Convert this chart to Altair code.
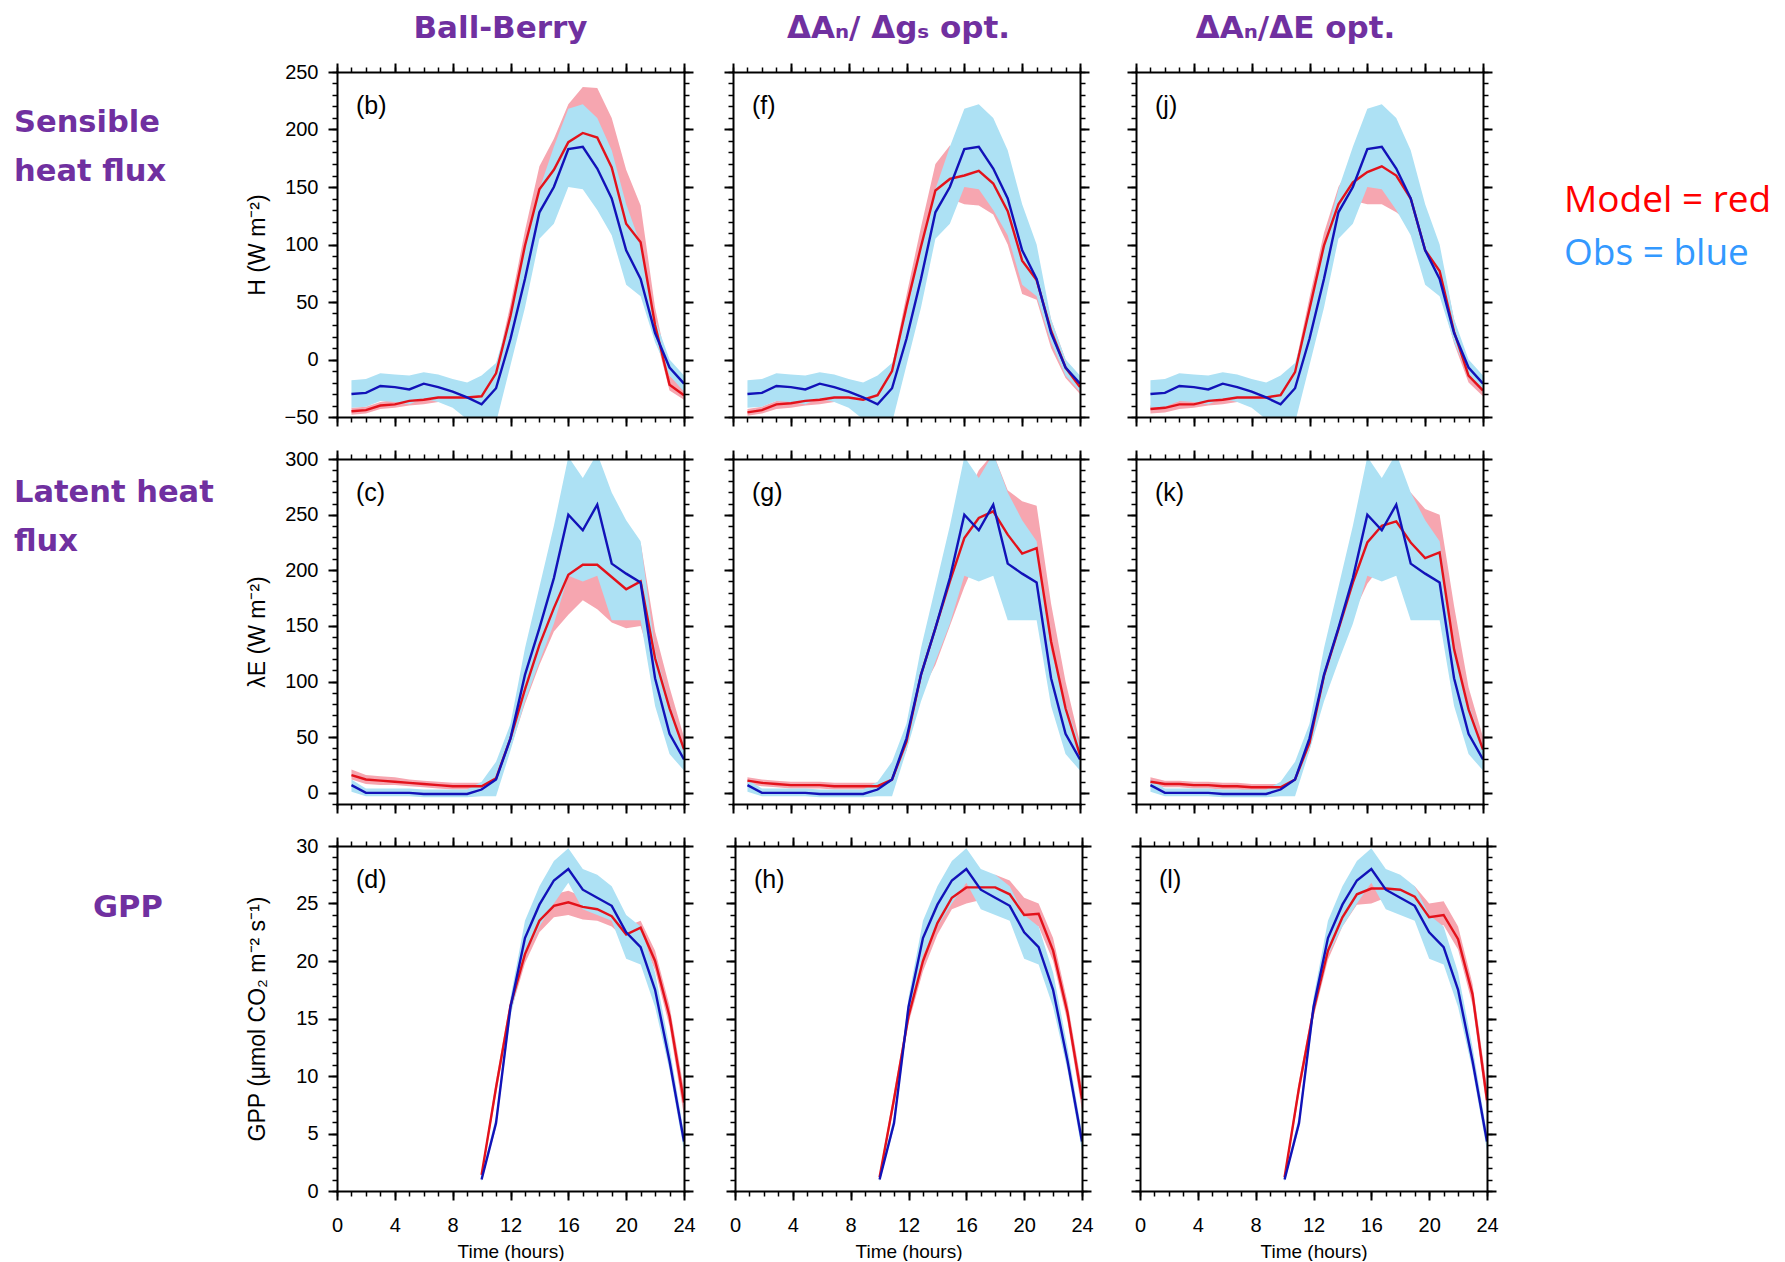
import altair as alt
import pandas as pd

# ---------------- data ----------------
HOURS = list(range(1, 25))
GPP_HOURS = list(range(10, 25))

X_MAJOR = [0, 4, 8, 12, 16, 20, 24]
X_MINOR = list(range(0, 25))
Y_DOMAINS = [[-50, 250], [-10, 300], [0, 30]]
Y_MAJOR = [[-50, 0, 50, 100, 150, 200, 250],
           [0, 50, 100, 150, 200, 250, 300],
           [0, 5, 10, 15, 20, 25, 30]]
Y_MINOR = [list(range(-50, 251, 10)), list(range(-10, 301, 10)), list(range(0, 31))]

COL_TITLES = ["Ball-Berry", "\u0394A\u2099/ \u0394g\u209b opt.", "\u0394A\u2099/\u0394E opt."]
ROW_LABELS = [["Sensible", "heat flux"], ["Latent heat", "flux"], ["GPP"]]
Y_TITLES = ["H (W m\u207b\u00b2)", "\u03bbE (W m\u207b\u00b2)", "GPP (\u03bcmol CO\u2082 m\u207b\u00b2 s\u207b\u00b9)"]
X_TITLE = "Time (hours)"
LETTERS = [["(b)", "(f)", "(j)"], ["(c)", "(g)", "(k)"], ["(d)", "(h)", "(l)"]]
LEGEND = ["Model = red", "Obs = blue"]

# Observations (same in every column of a row)
OBS_H = [-30, -29, -23, -24, -26, -21, -24, -28, -33, -39, -25, 18, 70, 128, 150, 183, 185, 166, 140, 95, 70, 23, -7, -21]
OBS_H_LO = [-42, -41, -36, -37, -39, -34, -37, -42, -52, -55, -55, -5, 45, 105, 118, 150, 148, 130, 108, 65, 55, 15, -14, -28]
OBS_H_HI = [-18, -17, -12, -13, -14, -11, -13, -17, -20, -14, -3, 40, 100, 148, 185, 218, 222, 210, 182, 135, 100, 35, 0, -14]

OBS_LE = [7, 0, 0, 0, 0, -1, -1, -1, -1, 3, 12, 49, 106, 148, 193, 250, 236, 259, 206, 197, 189, 103, 53, 30]
OBS_LE_LO = [1, -3, -3, -3, -3, -4, -4, -4, -4, -3, -3, 38, 82, 118, 152, 195, 190, 195, 155, 155, 155, 78, 35, 20]
OBS_LE_HI = [12, 4, 4, 4, 4, 3, 3, 3, 3, 10, 28, 62, 130, 185, 240, 302, 283, 305, 270, 245, 226, 128, 80, 42]

OBS_GPP = [1.0, 5.9, 16.0, 22.0, 24.9, 27.0, 28.0, 26.2, 25.5, 24.8, 22.5, 21.2, 17.5, 11.3, 4.3]
OBS_GPP_LO = [0.8, 5.5, 15.2, 20.5, 23.0, 25.0, 26.8, 24.5, 24.0, 23.5, 20.2, 19.7, 16.0, 10.5, 3.5]
OBS_GPP_HI = [1.3, 6.5, 16.8, 23.5, 26.5, 28.7, 29.8, 28.0, 27.5, 26.5, 24.0, 23.0, 19.0, 12.5, 5.0]

# Model runs: Ball-Berry, dAn/dgs opt., dAn/dE opt.
MOD_H_BB = [-45, -44, -40, -39, -36, -35, -33, -33, -33, -32, -12, 38, 99, 148, 165, 189, 197, 193, 167, 118, 102, 30, -22, -31]
MOD_H_BB_LO = [-48, -47, -43, -42, -40, -39, -37, -37, -37, -36, -16, 30, 88, 135, 152, 172, 180, 176, 150, 100, 85, 22, -27, -35]
MOD_H_BB_HI = [-42, -41, -37, -35, -32, -31, -29, -29, -30, -29, -8, 48, 112, 168, 192, 222, 237, 236, 210, 165, 134, 45, -14, -25]

MOD_H_GS = [-46, -44, -39, -38, -36, -35, -33, -33, -35, -31, -10, 46, 98, 147, 157, 160, 164, 153, 129, 86, 69, 25, -7, -24]
MOD_H_GS_LO = [-49, -47, -43, -42, -40, -39, -37, -37, -39, -35, -15, 36, 85, 128, 140, 135, 134, 126, 100, 57, 52, 10, -16, -30]
MOD_H_GS_HI = [-43, -41, -36, -35, -33, -32, -30, -30, -32, -28, -6, 56, 115, 170, 186, 180, 180, 172, 152, 108, 86, 35, 0, -20]

MOD_H_E = [-43, -42, -39, -39, -36, -35, -33, -33, -33, -31, -11, 44, 99, 135, 154, 163, 168, 160, 140, 95, 77, 24, -14, -27]
MOD_H_E_LO = [-47, -46, -43, -42, -40, -39, -37, -37, -37, -35, -16, 34, 88, 122, 138, 135, 135, 128, 118, 72, 60, 14, -20, -32]
MOD_H_E_HI = [-40, -39, -36, -35, -32, -31, -29, -29, -30, -28, -6, 54, 110, 150, 172, 180, 184, 178, 160, 112, 95, 35, -6, -22]

MOD_LE_BB = [16, 12, 11, 10, 9, 8, 7, 6, 6, 6, 13, 49, 93, 133, 166, 196, 205, 205, 194, 183, 190, 121, 76, 39]
MOD_LE_BB_LO = [12, 8, 7, 7, 6, 5, 4, 3, 3, 3, 9, 40, 80, 115, 145, 160, 173, 165, 153, 148, 150, 105, 60, 30]
MOD_LE_BB_HI = [21, 16, 15, 14, 12, 11, 10, 9, 9, 9, 18, 58, 105, 148, 185, 225, 232, 232, 225, 215, 225, 145, 95, 50]

MOD_LE_GS = [11, 9, 8, 7, 7, 7, 6, 6, 6, 6, 12, 46, 106, 148, 190, 229, 247, 253, 232, 215, 220, 136, 76, 34]
MOD_LE_GS_LO = [8, 6, 5, 4, 4, 4, 3, 3, 3, 3, 8, 38, 90, 115, 150, 185, 215, 220, 200, 185, 185, 115, 60, 25]
MOD_LE_GS_HI = [14, 12, 11, 10, 10, 10, 9, 9, 9, 9, 16, 54, 118, 162, 205, 262, 290, 305, 272, 262, 258, 170, 100, 45]

MOD_LE_E = [10, 8, 8, 7, 7, 6, 6, 5, 5, 5, 12, 45, 105, 147, 189, 225, 240, 244, 225, 211, 216, 129, 75, 39]
MOD_LE_E_LO = [7, 5, 5, 4, 4, 3, 3, 2, 2, 2, 8, 38, 95, 128, 160, 188, 205, 210, 195, 180, 180, 110, 60, 28]
MOD_LE_E_HI = [14, 11, 11, 10, 10, 9, 9, 8, 8, 8, 16, 54, 115, 162, 205, 255, 275, 280, 270, 255, 250, 168, 95, 50]

MOD_GPP_BB = [1.4, 9.0, 16.1, 20.6, 23.5, 24.8, 25.1, 24.7, 24.5, 23.9, 22.3, 22.9, 20.0, 15.2, 7.7]
MOD_GPP_BB_LO = [1.1, 8.4, 15.5, 19.8, 22.5, 23.8, 24.0, 23.6, 23.5, 23.0, 21.8, 22.2, 19.2, 14.3, 6.5]
MOD_GPP_BB_HI = [1.7, 9.6, 16.7, 21.4, 24.6, 25.8, 26.1, 25.6, 25.3, 24.7, 23.0, 23.5, 20.9, 16.1, 8.8]

MOD_GPP_GS = [1.2, 8.0, 15.2, 20.0, 23.3, 25.5, 26.4, 26.4, 26.4, 25.8, 24.0, 24.1, 20.9, 15.5, 8.0]
MOD_GPP_GS_LO = [0.9, 7.4, 14.6, 19.1, 22.3, 24.5, 25.0, 25.3, 25.5, 25.0, 23.1, 23.0, 20.0, 14.7, 7.0]
MOD_GPP_GS_HI = [1.5, 8.6, 15.8, 21.0, 24.3, 26.3, 27.2, 27.3, 27.5, 27.0, 25.5, 25.0, 22.0, 16.4, 9.0]

MOD_GPP_E = [1.2, 9.0, 15.7, 20.9, 23.8, 25.8, 26.3, 26.3, 26.2, 25.6, 23.8, 24.0, 21.9, 17.1, 7.9]
MOD_GPP_E_LO = [0.9, 8.4, 15.1, 20.1, 23.0, 24.9, 25.0, 25.5, 25.5, 25.0, 23.0, 23.1, 21.0, 16.2, 7.0]
MOD_GPP_E_HI = [1.5, 9.6, 16.3, 21.7, 24.6, 26.4, 26.9, 27.0, 27.0, 26.5, 25.0, 25.2, 23.0, 18.0, 9.0]

OBS = [(OBS_H, OBS_H_LO, OBS_H_HI), (OBS_LE, OBS_LE_LO, OBS_LE_HI), (OBS_GPP, OBS_GPP_LO, OBS_GPP_HI)]
MOD = [
    [(MOD_H_BB, MOD_H_BB_LO, MOD_H_BB_HI), (MOD_H_GS, MOD_H_GS_LO, MOD_H_GS_HI), (MOD_H_E, MOD_H_E_LO, MOD_H_E_HI)],
    [(MOD_LE_BB, MOD_LE_BB_LO, MOD_LE_BB_HI), (MOD_LE_GS, MOD_LE_GS_LO, MOD_LE_GS_HI), (MOD_LE_E, MOD_LE_E_LO, MOD_LE_E_HI)],
    [(MOD_GPP_BB, MOD_GPP_BB_LO, MOD_GPP_BB_HI), (MOD_GPP_GS, MOD_GPP_GS_LO, MOD_GPP_GS_HI), (MOD_GPP_E, MOD_GPP_E_LO, MOD_GPP_E_HI)],
]

# ---------------- style ----------------
RED = "#E3121B"
BLUE = "#1212B8"
PINK = "#F6A6B0"
SKY = "#ADE1F4"
PURPLE = "#7030A0"
AXFONT = "Liberation Sans"
PW, PH = 347, 345


def major_axis(orient, values, labels=False, kind="x"):
    kw = dict(orient=orient, values=values, tickSize=9, tickWidth=2, tickColor="black",
              domain=True, domainColor="black", domainWidth=2, domainCap="square",
              grid=False, zindex=1, labels=labels)
    if labels:
        kw.update(labelFont=AXFONT, labelFontSize=20, labelColor="black",
                  labelFlush=False, labelOverlap=False,
                  titleFont=AXFONT, titleFontWeight="normal", titleColor="black")
        if kind == "x":
            kw.update(labelPadding=15, titlePadding=7, titleFontSize=19)
        else:
            kw.update(labelPadding=10, titlePadding=16, titleFontSize=23,
                      minExtent=52, maxExtent=52)
    else:
        kw.update(minExtent=0)
    return alt.Axis(**kw)


def minor_axis(orient, values):
    return alt.Axis(orient=orient, values=values, tickSize=5, tickWidth=1.5, tickColor="black",
                    domain=False, grid=False, labels=False, zindex=1, minExtent=0)


def make_panel(r, c):
    hours = GPP_HOURS if r == 2 else HOURS
    obs, obs_lo, obs_hi = OBS[r]
    mod, mod_lo, mod_hi = MOD[r][c]
    df = pd.DataFrame({"hour": hours, "obs": obs, "obs_lo": obs_lo, "obs_hi": obs_hi,
                       "mod": mod, "mod_lo": mod_lo, "mod_hi": mod_hi})
    xs = alt.Scale(domain=[0, 24], nice=False, zero=False)
    ys = alt.Scale(domain=Y_DOMAINS[r], nice=False, zero=False)
    base = alt.Chart(df)
    lab_x = r == 2
    lab_y = c == 0

    band_mod = base.mark_area(color=PINK, opacity=1, clip=True).encode(
        x=alt.X("hour:Q", scale=xs, axis=major_axis("bottom", X_MAJOR, lab_x, "x"),
                title=X_TITLE if lab_x else None),
        y=alt.Y("mod_lo:Q", scale=ys, axis=major_axis("left", Y_MAJOR[r], lab_y, "y"),
                title=Y_TITLES[r] if lab_y else None),
        y2="mod_hi:Q",
    )
    band_obs = base.mark_area(color=SKY, opacity=1, clip=True).encode(
        x=alt.X("hour:Q", scale=xs, axis=minor_axis("bottom", X_MINOR), title=None),
        y=alt.Y("obs_lo:Q", scale=ys, axis=minor_axis("left", Y_MINOR[r]), title=None),
        y2="obs_hi:Q",
    )
    line_mod = base.mark_line(color=RED, strokeWidth=2.4, clip=True).encode(
        x=alt.X("hour:Q", scale=xs, axis=major_axis("top", X_MAJOR), title=None),
        y=alt.Y("mod:Q", scale=ys, axis=major_axis("right", Y_MAJOR[r]), title=None),
    )
    line_obs = base.mark_line(color=BLUE, strokeWidth=2.4, clip=True).encode(
        x=alt.X("hour:Q", scale=xs, axis=minor_axis("top", X_MINOR), title=None),
        y=alt.Y("obs:Q", scale=ys, axis=minor_axis("right", Y_MINOR[r]), title=None),
    )
    one = pd.DataFrame({"k": [0]})
    letter = alt.Chart(one).mark_text(font=AXFONT, fontSize=25, color="black",
                                      align="left", baseline="alphabetic").encode(
        x=alt.value(19), y=alt.value(42), text=alt.value(LETTERS[r][c]))
    layers = [band_mod, band_obs, line_mod, line_obs, letter]
    if r == 0 and c == 2:
        for i, col in enumerate(["#FF0000", "#3399FF"]):
            layers.append(alt.Chart(one).mark_text(font="Open Sans", fontSize=37, color=col,
                                                   align="left", baseline="alphabetic").encode(
                x=alt.value(428), y=alt.value(140 + 53 * i), text=alt.value(LEGEND[i])))
    ch = alt.layer(*layers).resolve_axis(x="independent", y="independent").properties(width=PW, height=PH)
    if r == 0:
        ch = ch.properties(title=alt.TitleParams(
            text=COL_TITLES[c], font="DejaVu Sans", fontSize=31, fontWeight="bold", color=PURPLE,
            anchor="middle", baseline="alphabetic", offset=-7, dx=[-10, -8, -14][c]))
    return ch


ROW_LABEL_X = [6, 6, 85]
ROW_LABEL_Y = [60, 43, 71]


def label_col(r):
    one = pd.DataFrame({"k": [0]})
    return alt.Chart(one).mark_text(font="DejaVu Sans", fontWeight="bold", fontSize=30.5, color=PURPLE,
                                    align="left", baseline="alphabetic", lineHeight=49).encode(
        x=alt.value(ROW_LABEL_X[r]), y=alt.value(ROW_LABEL_Y[r]), text=alt.value(ROW_LABELS[r])
    ).properties(width=210, height=PH)


rows = []
for r in range(3):
    p = [make_panel(r, c) for c in range(3)]
    left = alt.hconcat(label_col(r), p[0], spacing=28)
    right = alt.hconcat(p[1], p[2], spacing=36)
    rows.append(alt.hconcat(left, right, spacing=29))

chart = alt.vconcat(*rows, spacing=22, padding={"left": 0, "top": 5, "right": 5, "bottom": 0}
                    ).configure_view(strokeWidth=0)

chart.save("out.html", embed_options={"renderer": "svg", "actions": False})
